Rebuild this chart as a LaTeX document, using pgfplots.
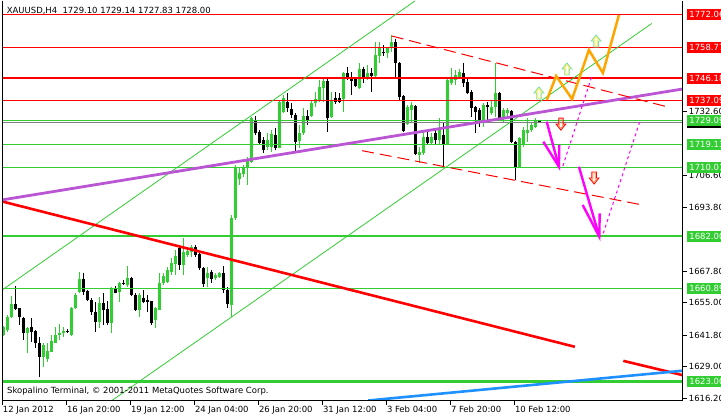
\documentclass[border=0pt]{standalone}
\usepackage{pgfplots}
\pgfplotsset{compat=1.18}
\usepackage{pgfplotstable}
\usepackage{fontspec}
\setmainfont{DejaVu Sans}
\newcommand\lbl{\fontsize{8.5}{10}\selectfont}
\definecolor{cgreen}{RGB}{50,205,50}
\definecolor{cred}{RGB}{255,0,0}
\definecolor{cpurple}{RGB}{186,85,211}
\definecolor{cblue}{RGB}{30,144,255}
\definecolor{corange}{RGB}{255,165,0}
\definecolor{cmag}{RGB}{255,0,255}
\definecolor{cgray}{RGB}{128,128,128}
\definecolor{arrgreen}{RGB}{120,220,160}
\definecolor{arryel}{RGB}{255,235,60}
\definecolor{arrorange}{RGB}{255,140,80}

\pgfdeclareplotmark{uparr}{%
  \pgfsetlinewidth{0.9bp}%
  \pgfsetstrokecolor{arrgreen}%
  \pgfpathmoveto{\pgfpoint{-2.2bp}{-6bp}}%
  \pgfpathlineto{\pgfpoint{2.2bp}{-6bp}}%
  \pgfpathlineto{\pgfpoint{2.2bp}{0bp}}%
  \pgfpathlineto{\pgfpoint{4.8bp}{0bp}}%
  \pgfpathlineto{\pgfpoint{0bp}{6bp}}%
  \pgfpathlineto{\pgfpoint{-4.8bp}{0bp}}%
  \pgfpathlineto{\pgfpoint{-2.2bp}{0bp}}%
  \pgfpathclose
  \pgfusepathqstroke
  \pgfsetlinewidth{0.7bp}%
  \pgfsetstrokecolor{arryel}%
  \pgfpathmoveto{\pgfpoint{-1.2bp}{-5bp}}%
  \pgfpathlineto{\pgfpoint{1.2bp}{-5bp}}%
  \pgfpathlineto{\pgfpoint{1.2bp}{0.9bp}}%
  \pgfpathlineto{\pgfpoint{2.8bp}{0.9bp}}%
  \pgfpathlineto{\pgfpoint{0bp}{4.4bp}}%
  \pgfpathlineto{\pgfpoint{-2.8bp}{0.9bp}}%
  \pgfpathlineto{\pgfpoint{-1.2bp}{0.9bp}}%
  \pgfpathclose
  \pgfusepathqstroke
}
\pgfdeclareplotmark{dnarr}{%
  \pgfsetlinewidth{0.9bp}%
  \pgfsetstrokecolor{cred}%
  \pgfpathmoveto{\pgfpoint{-2.2bp}{6bp}}%
  \pgfpathlineto{\pgfpoint{2.2bp}{6bp}}%
  \pgfpathlineto{\pgfpoint{2.2bp}{0bp}}%
  \pgfpathlineto{\pgfpoint{4.8bp}{0bp}}%
  \pgfpathlineto{\pgfpoint{0bp}{-6bp}}%
  \pgfpathlineto{\pgfpoint{-4.8bp}{0bp}}%
  \pgfpathlineto{\pgfpoint{-2.2bp}{0bp}}%
  \pgfpathclose
  \pgfusepathqstroke
  \pgfsetlinewidth{0.7bp}%
  \pgfsetstrokecolor{arrorange}%
  \pgfpathmoveto{\pgfpoint{-1.2bp}{5bp}}%
  \pgfpathlineto{\pgfpoint{1.2bp}{5bp}}%
  \pgfpathlineto{\pgfpoint{1.2bp}{-0.9bp}}%
  \pgfpathlineto{\pgfpoint{2.8bp}{-0.9bp}}%
  \pgfpathlineto{\pgfpoint{0bp}{-4.4bp}}%
  \pgfpathlineto{\pgfpoint{-2.8bp}{-0.9bp}}%
  \pgfpathlineto{\pgfpoint{-1.2bp}{-0.9bp}}%
  \pgfpathclose
  \pgfusepathqstroke
}

% up (bullish) candles: index open high low close
\pgfplotstableread{
i o h l c
0 1641.9 1645.5 1641.5 1645.3
1 1643.9 1650.0 1643.2 1649.1
2 1649.1 1657.7 1648.7 1654.5
6 1642.8 1645.3 1634.5 1644.9
10 1633.1 1638.5 1628.8 1637.8
11 1632.0 1638.5 1631.1 1635.5
12 1635.1 1641.9 1635.1 1639.6
13 1638.8 1645.3 1638.5 1641.9
14 1641.8 1646.4 1639.9 1642.6
15 1642.6 1645.0 1641.2 1643.5
17 1641.9 1653.1 1641.5 1652.7
18 1652.7 1658.8 1652.3 1658.1
19 1659.5 1667.6 1658.8 1664.5
24 1647.3 1657.4 1644.6 1655.0
27 1646.6 1661.3 1642.6 1660.4
29 1659.5 1663.5 1655.4 1662.9
31 1662.2 1669.9 1661.5 1664.9
34 1652.0 1658.8 1649.3 1658.1
38 1648.0 1653.4 1644.6 1652.7
39 1652.0 1666.9 1652.0 1663.1
40 1662.9 1666.9 1662.2 1665.8
41 1663.5 1669.6 1662.9 1668.3
42 1667.6 1673.0 1666.2 1671.0
43 1670.7 1676.4 1666.2 1674.0
45 1670.3 1681.1 1666.2 1675.7
46 1674.4 1677.7 1673.7 1676.0
47 1675.7 1678.4 1673.7 1677.7
51 1664.9 1669.6 1661.5 1667.2
53 1664.9 1667.2 1664.2 1666.2
54 1665.6 1667.6 1664.9 1667.2
57 1654.1 1690.6 1649.3 1689.3
58 1689.3 1710.9 1688.6 1710.2
59 1705.1 1710.2 1702.8 1707.8
60 1707.2 1710.9 1706.1 1710.0
61 1709.5 1714.3 1702.8 1712.9
62 1712.2 1730.5 1711.6 1729.8
66 1718.3 1723.8 1717.0 1721.0
67 1718.2 1725.1 1716.2 1723.5
69 1717.7 1737.3 1717.7 1736.6
70 1732.5 1739.3 1732.1 1738.0
74 1720.7 1727.1 1717.7 1723.8
75 1723.8 1733.9 1723.1 1730.8
77 1730.8 1737.3 1730.5 1736.2
78 1735.9 1740.6 1734.5 1737.5
79 1737.3 1745.4 1736.6 1742.4
80 1742.0 1746.1 1736.6 1745.0
82 1730.2 1740.6 1729.8 1737.3
85 1737.5 1748.8 1732.5 1748.3
89 1742.0 1752.2 1741.6 1749.7
91 1746.7 1751.5 1745.4 1748.3
93 1747.0 1760.9 1746.7 1755.5
94 1755.1 1760.9 1752.2 1758.9
96 1756.2 1758.9 1754.2 1758.2
97 1758.2 1763.6 1756.9 1760.9
101 1727.5 1735.2 1727.1 1734.3
102 1733.2 1736.5 1728.3 1735.2
104 1714.9 1718.3 1711.6 1716.3
105 1715.6 1724.4 1714.9 1722.4
107 1719.7 1723.8 1719.0 1722.4
109 1721.0 1729.8 1719.0 1725.1
111 1719.0 1746.7 1718.8 1745.4
112 1744.0 1750.1 1743.4 1746.7
113 1745.4 1749.4 1743.4 1747.4
114 1746.7 1749.7 1746.1 1748.8
120 1729.1 1735.9 1726.4 1735.2
122 1731.9 1737.3 1731.2 1734.5
123 1734.5 1752.2 1730.5 1740.0
125 1729.8 1733.9 1728.5 1733.2
126 1731.9 1733.9 1730.2 1733.2
129 1710.2 1722.4 1709.5 1721.7
130 1719.0 1726.4 1718.3 1725.1
131 1723.8 1729.8 1720.3 1725.1
132 1725.1 1727.8 1724.4 1727.1
133 1726.4 1729.8 1725.8 1729.1
}\upd

% down (bearish) candles
\pgfplotstableread{
i o h l c
3 1654.5 1661.8 1652.0 1652.4
4 1652.7 1652.9 1646.0 1649.1
5 1648.7 1649.3 1639.9 1642.6
7 1645.0 1648.7 1639.2 1643.2
8 1643.5 1643.9 1636.5 1638.5
9 1638.5 1641.2 1625.0 1633.1
16 1643.5 1644.2 1642.8 1643.1
20 1664.5 1666.9 1658.1 1659.5
21 1659.9 1660.2 1655.8 1656.1
22 1656.1 1656.8 1650.0 1651.4
23 1651.4 1655.4 1643.2 1647.3
25 1654.8 1658.8 1646.0 1652.0
26 1652.4 1655.8 1646.0 1646.9
28 1660.4 1661.8 1658.8 1659.1
30 1662.9 1664.2 1662.2 1662.5
32 1664.9 1665.6 1657.7 1658.1
33 1658.1 1658.9 1651.6 1652.0
35 1656.8 1660.2 1654.8 1655.4
36 1656.1 1658.1 1651.4 1655.2
37 1655.7 1655.7 1646.0 1646.6
44 1677.1 1677.7 1668.3 1670.3
48 1677.7 1678.4 1673.7 1674.4
49 1674.6 1675.1 1668.3 1669.0
50 1669.0 1669.6 1661.5 1662.5
52 1667.6 1668.3 1662.9 1664.5
55 1667.2 1669.9 1658.8 1660.2
56 1660.2 1661.5 1652.7 1654.4
63 1729.1 1730.8 1723.1 1723.8
64 1724.4 1725.1 1719.0 1719.7
65 1721.0 1722.4 1715.6 1717.0
68 1723.1 1725.8 1717.0 1717.7
71 1736.6 1740.0 1732.5 1733.9
72 1733.6 1735.9 1729.8 1731.2
73 1731.2 1731.9 1716.3 1720.3
76 1730.8 1733.2 1727.1 1729.1
81 1745.0 1746.7 1724.4 1729.8
83 1738.0 1740.6 1735.6 1736.6
84 1738.0 1740.0 1735.9 1736.6
86 1748.3 1750.8 1745.4 1745.7
87 1746.1 1748.8 1739.3 1745.1
88 1745.7 1746.7 1742.7 1742.9
90 1749.7 1750.8 1744.0 1746.7
92 1748.3 1750.1 1740.6 1747.0
95 1756.9 1759.6 1755.1 1756.5
98 1760.9 1761.9 1746.7 1752.2
99 1752.2 1752.8 1737.3 1738.6
100 1738.9 1739.3 1724.4 1724.8
103 1734.8 1735.2 1714.9 1715.2
106 1722.4 1724.4 1719.0 1719.7
108 1723.8 1725.1 1719.0 1721.0
110 1723.1 1727.8 1710.2 1719.0
115 1748.3 1752.2 1742.7 1744.0
116 1744.7 1746.7 1739.8 1740.0
117 1740.6 1741.3 1730.5 1733.9
118 1734.5 1734.8 1723.8 1732.5
119 1733.2 1733.9 1726.4 1729.1
121 1735.2 1736.6 1729.1 1734.3
124 1740.0 1740.6 1729.1 1729.8
127 1732.8 1733.2 1719.7 1720.3
128 1720.3 1720.6 1704.8 1710.2
134 1729.1 1729.14 1727.83 1728.0
}\dnd

\begin{document}
\begin{tikzpicture}
\begin{axis}[
  at={(2.3bp,17.3bp)}, anchor=south west,
  scale only axis, width=680.4bp, height=399.7bp,
  xmin=-0.25, xmax=169.85, ymin=1615.23, ymax=1777.44,
  axis line style={draw=none},
  clip mode=individual,
  tick align=outside,
  major tick length=4bp,
  tick style={black, line width=0.8bp},
  xtick pos=bottom, ytick pos=right, yticklabel pos=right,
  xtick={-0.25,15.75,31.75,47.75,63.75,79.75,95.75,111.75,127.75},
  xticklabels={12 Jan 2012,16 Jan 20:00,19 Jan 12:00,24 Jan 04:00,26 Jan 20:00,31 Jan 12:00,3 Feb 04:00,7 Feb 20:00,10 Feb 12:00},
  ytick={1616.2,1629.0,1641.8,1655.0,1667.8,1693.8,1706.6,1732.6},
  yticklabels={1616.20,1629.00,1641.80,1655.00,1667.80,1693.80,1706.60,1732.60},
  xticklabel style={anchor=north west, inner sep=0pt, font=\lbl, xshift=0.5bp, yshift=-1bp},
  yticklabel style={anchor=west, inner sep=0pt, font=\lbl, xshift=2bp},
]
% --- candles: wicks and bodies ---
\addplot[draw=none, mark=none, forget plot,
  error bars/.cd, y dir=plus, y explicit, error mark=none,
  error bar style={draw=cgreen, line width=1bp, line cap=butt}]
  table[x=i, y=l, y error plus expr=\thisrow{h}-\thisrow{l}] {\upd};
\addplot[draw=none, mark=none, forget plot,
  error bars/.cd, y dir=plus, y explicit, error mark=none,
  error bar style={draw=cgreen, line width=3bp, line cap=butt}]
  table[x=i, y=o, y error plus expr=\thisrow{c}-\thisrow{o}] {\upd};
\addplot[draw=none, mark=none, forget plot,
  error bars/.cd, y dir=plus, y explicit, error mark=none,
  error bar style={draw=black, line width=1bp, line cap=butt}]
  table[x=i, y=l, y error plus expr=\thisrow{h}-\thisrow{l}] {\dnd};
\addplot[draw=none, mark=none, forget plot,
  error bars/.cd, y dir=plus, y explicit, error mark=none,
  error bar style={draw=black, line width=3bp, line cap=butt}]
  table[x=i, y=c, y error plus expr=\thisrow{o}-\thisrow{c}] {\dnd};

% --- horizontal levels ---
\addplot[cred, line width=1bp] coordinates {(-0.25,1772.06) (169.85,1772.06)};
\addplot[cred, line width=1bp] coordinates {(-0.25,1758.77) (169.85,1758.77)};
\addplot[cred, line width=2.6bp] coordinates {(-0.25,1746.18) (169.85,1746.18)};
\addplot[cred, line width=1bp] coordinates {(-0.25,1737.09) (169.85,1737.09)};
\addplot[cgreen, line width=1bp] coordinates {(-0.25,1729.09) (169.85,1729.09)};
\addplot[cgray, line width=1bp] coordinates {(-0.25,1728.00) (169.85,1728.00)};
\addplot[cgreen, line width=1bp] coordinates {(-0.25,1719.13) (169.85,1719.13)};
\addplot[cgreen, line width=1bp] coordinates {(-0.25,1710.01) (169.85,1710.01)};
\addplot[cgreen, line width=2.6bp] coordinates {(-0.25,1682.00) (169.85,1682.00)};
\addplot[cgreen, line width=1bp] coordinates {(-0.25,1660.89) (169.85,1660.89)};
\addplot[cgreen, line width=2.6bp] coordinates {(-0.25,1623.00) (169.85,1623.00)};

% --- trend lines ---
\addplot[cgreen, line width=0.8bp] coordinates {(-0.25,1660.2) (102.9,1777.44)};
\addplot[cgreen, line width=0.8bp] coordinates {(27.1,1615.23) (162.1,1768.31)};
\addplot[cred, line width=2.6bp] coordinates {(-0.25,1696.07) (142.9,1637.1)};
\addplot[cred, line width=2.6bp] coordinates {(155.0,1631.4) (169.85,1625.6)};
\addplot[cblue, line width=2.6bp] coordinates {(91.25,1615.31) (169.85,1627.40)};
\addplot[cpurple, line width=2.8bp] coordinates {(-0.25,1696.72) (169.85,1741.73)};
\addplot[cred, line width=1bp, dash pattern=on 12bp off 6bp] coordinates {(97.1,1763.24) (165.85,1734.55)};
\addplot[cred, line width=1bp, dash pattern=on 12bp off 6bp] coordinates {(89.7,1716.69) (159.85,1694.65)};

% --- projected path and arrows ---
\addplot[corange, line width=2.5bp] coordinates {(135.9,1737.27) (138.2,1747.01) (142.2,1737.67) (146.4,1757.56) (149.9,1748.22) (153.9,1771.76)};
\addplot[cmag, line width=2.4bp] coordinates {(135.85,1728.46) (138.9,1710.2)};
\addplot[cmag, line width=2.4bp] coordinates {(135.0,1720.34) (138.9,1710.2) (139.0,1719.0)};
\addplot[cmag, line width=2.4bp] coordinates {(143.9,1710.2) (149.0,1681.79)};
\addplot[cmag, line width=2.4bp] coordinates {(144.85,1694.65) (149.0,1681.79) (149.1,1691.28)};
\addplot[cmag, line width=1bp, dash pattern=on 3bp off 3bp] coordinates {(139.9,1710.48) (147.1,1746.72)};
\addplot[cmag, line width=1bp, dash pattern=on 3bp off 3bp] coordinates {(150.0,1683.17) (159.2,1728.86)};
\addplot[only marks, mark=uparr] coordinates {(133.9,1740.1) (140.9,1749.85) (148.2,1761.2)};
\addplot[only marks, mark=dnarr] coordinates {(139.4,1727.5) (147.7,1705.6)};

% --- frame ---
\draw[black, line width=1bp] (rel axis cs:0,1) -- (rel axis cs:0,0) -- (rel axis cs:1,0) -- (rel axis cs:1,1);

% --- price boxes ---
\tikzset{pbox/.style={anchor=west, inner xsep=2.5bp, inner ysep=0pt, minimum height=11bp, text=white, font=\lbl, xshift=4bp}}
\node[pbox, fill=cred] at (axis cs:169.85,1772.06) {1772.06};
\node[pbox, fill=cred] at (axis cs:169.85,1758.77) {1758.77};
\node[pbox, fill=cred] at (axis cs:169.85,1746.18) {1746.18};
\node[pbox, fill=cred] at (axis cs:169.85,1737.09) {1737.09};
\node[pbox, fill=black] at (axis cs:169.85,1728.00) {1728.00};
\node[pbox, fill=cgreen] at (axis cs:169.85,1729.09) {1729.09};
\node[pbox, fill=cgreen] at (axis cs:169.85,1719.13) {1719.13};
\node[pbox, fill=cgreen] at (axis cs:169.85,1710.01) {1710.01};
\node[pbox, fill=cgreen] at (axis cs:169.85,1682.00) {1682.00};
\node[pbox, fill=cgreen] at (axis cs:169.85,1660.89) {1660.89};
\node[pbox, fill=cgreen] at (axis cs:169.85,1623.00) {1623.00};
\end{axis}
\node[anchor=west, inner sep=0pt, font=\lbl] at (6.7bp,407.5bp) {XAUUSD,H4~ 1729.10 1729.14 1727.83 1728.00};
\node[anchor=west, inner sep=0pt, font=\lbl] at (7bp,27bp) {Skopalino Terminal, © 2001-2011 MetaQuotes Software Corp.};
\pgfresetboundingbox
\useasboundingbox (0,0) rectangle (721bp,418bp);
\end{tikzpicture}
\end{document}
